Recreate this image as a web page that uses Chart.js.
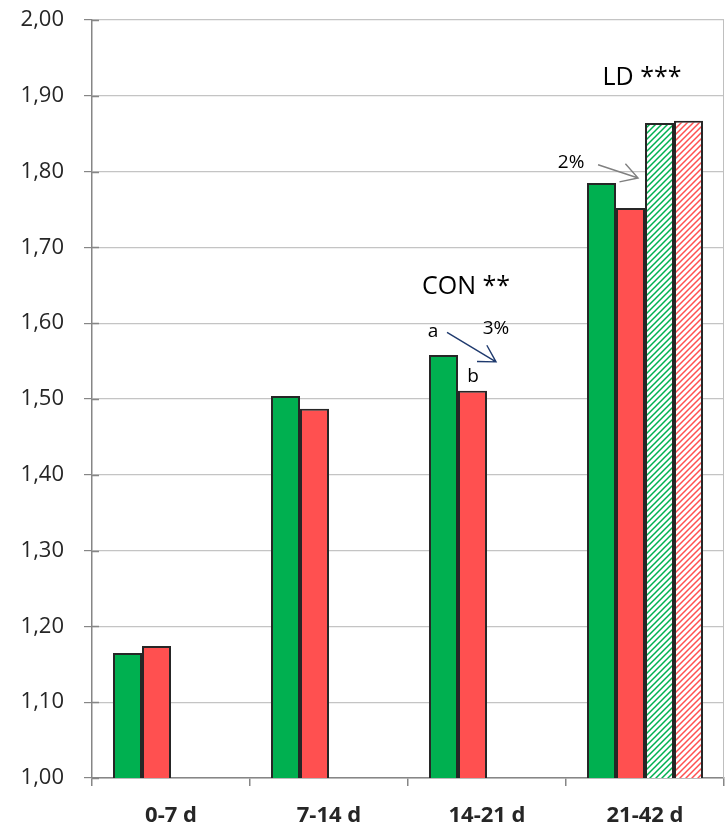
<!DOCTYPE html>
<html>
<head>
<meta charset="utf-8">
<script src="https://cdn.jsdelivr.net/npm/chart.js@4/dist/chart.umd.min.js"></script>
<style>
  html, body { margin: 0; padding: 0; background: #fff; }
  canvas { display: block; }
</style>
</head>
<body>
<canvas id="chart" width="726" height="825"></canvas>
<script>
// Periods and measured values
const categories = ['0-7 d', '7-14 d', '14-21 d', '21-42 d'];
const greenValues = [1.165, 1.504, 1.558, 1.785];
const redValues = [1.174, 1.487, 1.511, 1.752];
const greenHatchedValues = [null, null, null, 1.864];
const redHatchedValues = [null, null, null, 1.867];

// Y axis range and tick step
const yMin = 1.0;
const yMax = 2.0;
const yStep = 0.1;

const GREEN = '#00b050';
const RED = '#ff5050';
const BAR_EDGE = '#262626';
const FONT = "'Open Sans', 'DejaVu Sans', sans-serif";

const canvas = document.getElementById('chart');
const ctx = canvas.getContext('2d');

// Diagonal hatch fill on white
function hatch(color) {
  const s = 6;
  const t = document.createElement('canvas');
  t.width = s; t.height = s;
  const g = t.getContext('2d');
  g.fillStyle = '#ffffff';
  g.fillRect(0, 0, s, s);
  g.strokeStyle = color;
  g.lineWidth = 1.5;
  g.beginPath();
  g.moveTo(-1, s + 1); g.lineTo(s + 1, -1);
  g.moveTo(-1, 1); g.lineTo(1, -1);
  g.moveTo(s - 1, s + 1); g.lineTo(s + 1, s - 1);
  g.stroke();
  return ctx.createPattern(t, 'repeat');
}

// Text notes and arrows, placed in data space (category index, value)
const notes = [
  { text: 'CON **', cat: 1.867, val: 1.6385, size: 25 },
  { text: 'a', cat: 1.658, val: 1.582, size: 19 },
  { text: '3%', cat: 2.057, val: 1.586, size: 19 },
  { text: 'b', cat: 1.911, val: 1.522, size: 19 },
  { text: 'LD ***', cat: 2.981, val: 1.914, size: 25 },
  { text: '2%', cat: 2.532, val: 1.805, size: 19 }
];
const arrows = [
  { from: [1.747, 1.588], to: [2.057, 1.549], color: '#1f3a6e' },
  { from: [2.703, 1.809], to: [2.956, 1.7916], color: '#808080' }
];

const decorations = {
  id: 'decorations',
  afterDatasetsDraw(chart) {
    const { ctx: c, chartArea: a, scales: { x, y } } = chart;
    c.save();
    // right frame line
    c.strokeStyle = '#bfbfbf';
    c.lineWidth = 1;
    c.beginPath();
    c.moveTo(a.right - 0.5, a.top);
    c.lineTo(a.right - 0.5, a.bottom);
    c.stroke();
    // inner half of the y tick marks
    c.strokeStyle = '#868686';
    c.lineWidth = 1.5;
    y.ticks.forEach(t => {
      const py = Math.round(y.getPixelForValue(t.value)) + 0.5;
      c.beginPath();
      c.moveTo(a.left, py);
      c.lineTo(a.left + 7, py);
      c.stroke();
    });
    // notes
    c.fillStyle = '#000';
    c.textAlign = 'center';
    c.textBaseline = 'alphabetic';
    notes.forEach(n => {
      c.font = n.size + 'px ' + FONT;
      c.fillText(n.text, x.getPixelForValue(n.cat), y.getPixelForValue(n.val));
    });
    // arrows with open heads
    arrows.forEach(ar => {
      const x0 = x.getPixelForValue(ar.from[0]), y0 = y.getPixelForValue(ar.from[1]);
      const x1 = x.getPixelForValue(ar.to[0]), y1 = y.getPixelForValue(ar.to[1]);
      const ang = Math.atan2(y1 - y0, x1 - x0);
      const head = 19, spread = Math.PI / 6;
      c.strokeStyle = ar.color;
      c.lineWidth = 1.4;
      c.beginPath();
      c.moveTo(x0, y0); c.lineTo(x1, y1);
      c.moveTo(x1 - head * Math.cos(ang - spread), y1 - head * Math.sin(ang - spread));
      c.lineTo(x1, y1);
      c.lineTo(x1 - head * Math.cos(ang + spread), y1 - head * Math.sin(ang + spread));
      c.stroke();
    });
    c.restore();
  }
};

const barStyle = {
  borderColor: BAR_EDGE,
  borderWidth: 2,
  borderSkipped: 'start',
  categoryPercentage: 0.734,
  barPercentage: 1.0
};

new Chart(ctx, {
  type: 'bar',
  data: {
    labels: categories,
    datasets: [
      Object.assign({ label: 'green', data: greenValues, backgroundColor: GREEN }, barStyle),
      Object.assign({ label: 'red', data: redValues, backgroundColor: RED }, barStyle),
      Object.assign({ label: 'green hatched', data: greenHatchedValues, backgroundColor: hatch(GREEN) }, barStyle),
      Object.assign({ label: 'red hatched', data: redHatchedValues, backgroundColor: hatch(RED) }, barStyle)
    ]
  },
  options: {
    responsive: false,
    animation: false,
    devicePixelRatio: 1,
    layout: { padding: { top: 20, right: 2, left: 0, bottom: 0 } },
    plugins: {
      legend: { display: false },
      tooltip: { enabled: false }
    },
    scales: {
      x: {
        offset: true,
        grid: {
          display: true,
          drawOnChartArea: false,
          offset: true,
          tickLength: 8,
          color: '#868686',
          lineWidth: 1.5
        },
        border: { display: true, color: '#868686', width: 1.5 },
        ticks: {
          color: '#262626',
          padding: 17,
          font: { family: FONT, size: 22, weight: 'bold' }
        },
        afterFit(s) { s.height = 47; s.paddingLeft = 0; s.paddingRight = 0; }
      },
      y: {
        min: yMin,
        max: yMax,
        grid: {
          color: '#c4c4c4',
          tickColor: '#868686',
          tickLength: 8,
          lineWidth: 1.2
        },
        border: { display: true, color: '#868686', width: 1.5 },
        ticks: {
          stepSize: yStep,
          color: '#262626',
          padding: 20,
          font: { family: FONT, size: 22 },
          callback: v => Number(v).toFixed(2).replace('.', ',')
        },
        afterFit(s) { s.width = 92; s.paddingTop = 0; s.paddingBottom = 0; }
      }
    }
  },
  plugins: [decorations]
});
</script>
</body>
</html>
